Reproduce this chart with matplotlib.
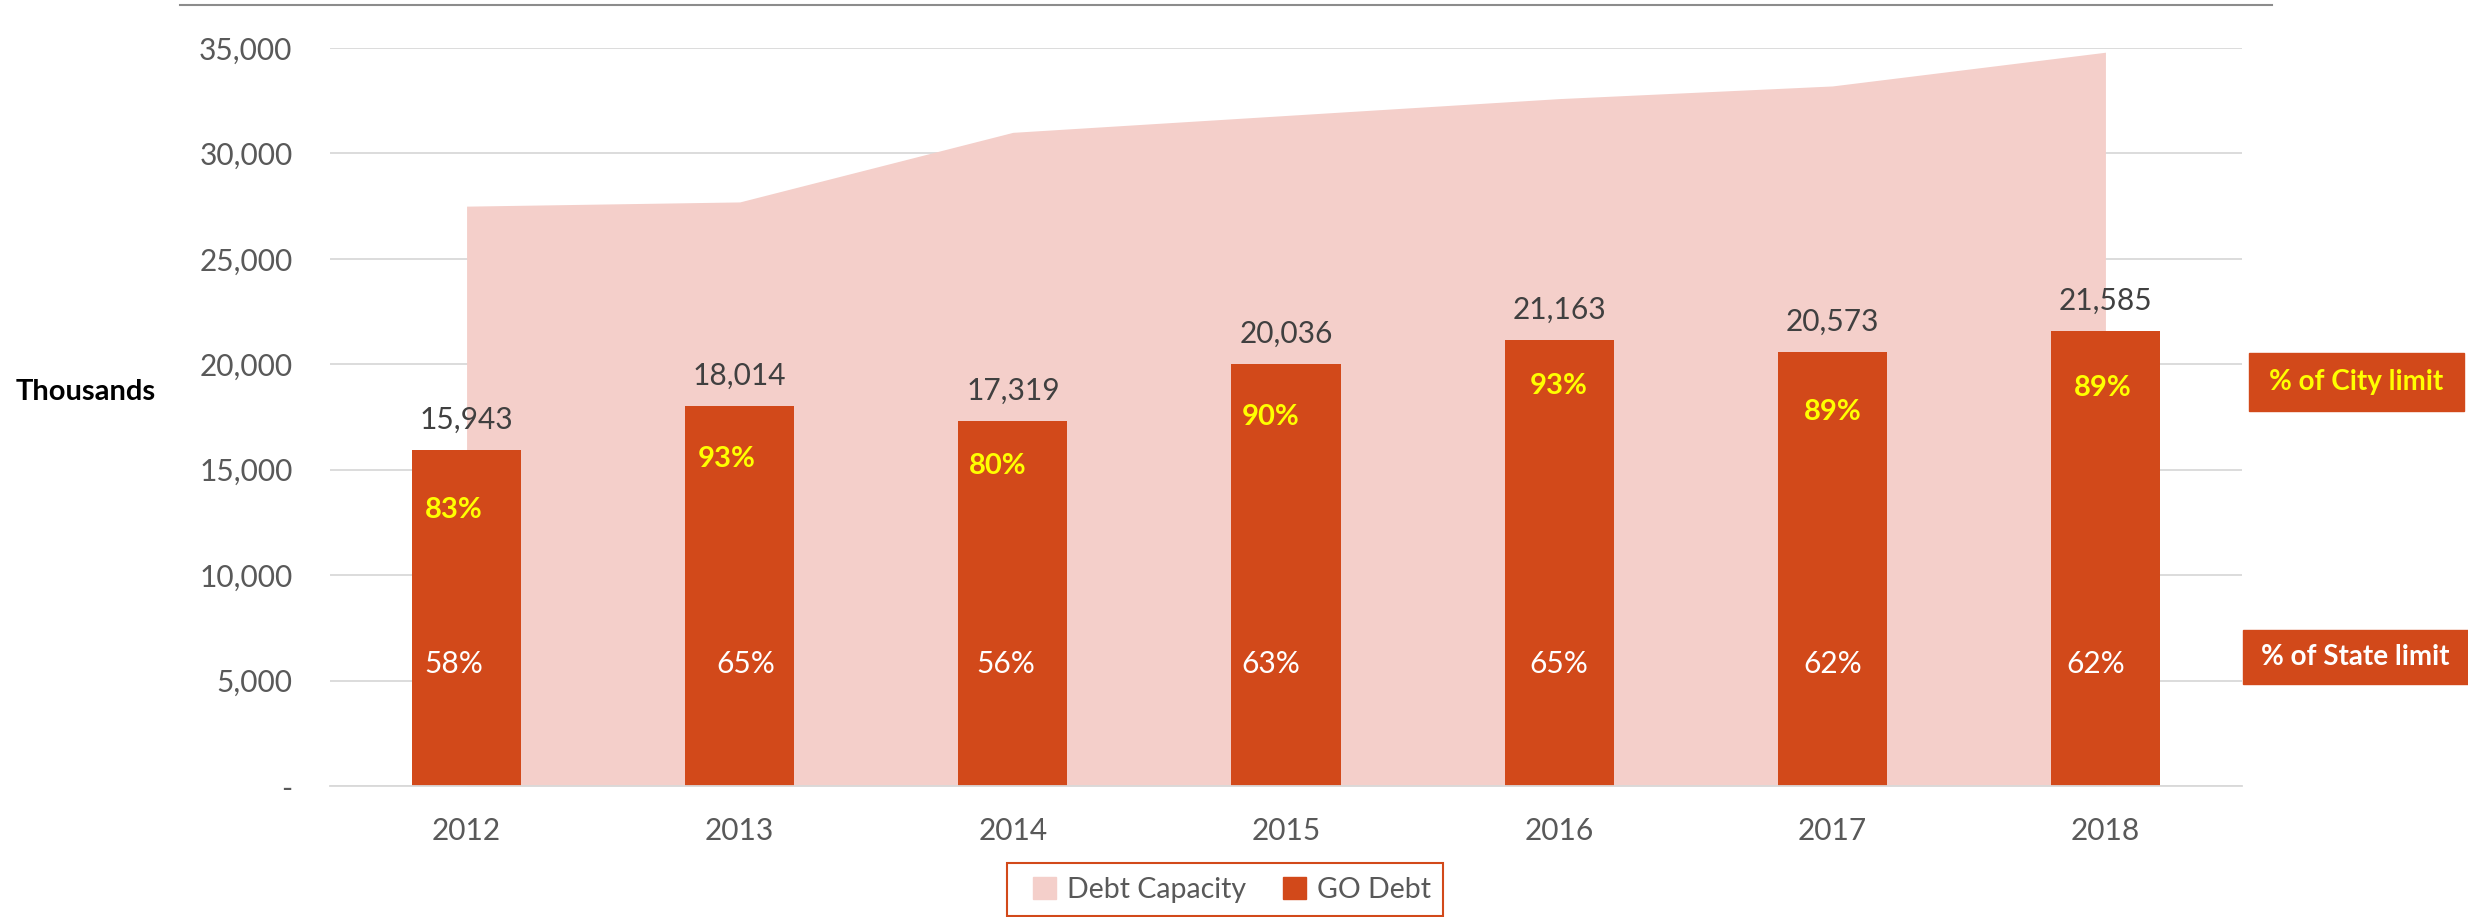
import matplotlib
matplotlib.use("Agg")
import matplotlib.pyplot as plt
from matplotlib.patches import Rectangle, Patch
from matplotlib.lines import Line2D
from matplotlib.ticker import FuncFormatter
import numpy as np

plt.rcParams["font.family"] = ["Lato", "DejaVu Sans"]

years = ["2012", "2013", "2014", "2015", "2016", "2017", "2018"]
go_debt = [15943, 18014, 17319, 20036, 21163, 20573, 21585]
debt_capacity = [27500, 27700, 31000, 31800, 32600, 33200, 34800]
city_pct = ["83%", "93%", "80%", "90%", "93%", "89%", "89%"]
state_pct = ["58%", "65%", "56%", "63%", "65%", "62%", "62%"]

# the in-bar labels were nudged by hand on the original slide (pixels)
city_dx = [-13, -13, -15, -15, 0, 0, -3]
city_dy = [60, 53, 45, 53, 46, 60, 57]
state_dx = [-13, 6, -7, -15, 0, 0, -10]
STATE_Y = 5800

ORANGE = "#D2491A"
PINK = "#F4CFCA"
W, H = 2468, 917
PT = 0.72  # points per pixel at dpi 100

fig = plt.figure(figsize=(W / 100, H / 100), dpi=100)
ax = fig.add_axes([330 / W, 1 - 786 / H, (2242 - 330) / W, (786 - 48) / H])

x = np.arange(len(years))
ax.fill_between(x, debt_capacity, color=PINK, lw=0, zorder=1)
ax.bar(x, go_debt, width=0.4, color=ORANGE, zorder=2)

ax.set_xlim(-0.5, len(years) - 0.5)
ax.set_ylim(0, 35000)
ax.set_yticks(range(0, 35001, 5000))
ax.yaxis.set_major_formatter(FuncFormatter(lambda v, p: "-" if v == 0 else f"{v:,.0f}"))
ax.set_xticks(x, years)
ax.grid(axis="y", color="#D9D9D9", lw=1.3)
ax.set_axisbelow(True)
for name, s in ax.spines.items():
    s.set_visible(name == "bottom")
ax.spines["bottom"].set_color("#D9D9D9")
ax.spines["bottom"].set_linewidth(1.3)
ax.tick_params(length=0, labelsize=21.5, labelcolor="#595959")
ax.tick_params(axis="y", pad=27)
ax.tick_params(axis="x", pad=22)

for i in range(len(years)):
    ax.annotate(f"{go_debt[i]:,}", (i, go_debt[i]), xytext=(0, 30 * PT),
                textcoords="offset points", ha="center", va="center",
                fontsize=21.5, color="#404040", zorder=3)
    ax.annotate(city_pct[i], (i, go_debt[i]), xytext=(city_dx[i] * PT, -city_dy[i] * PT),
                textcoords="offset points", ha="center", va="center",
                fontsize=21, fontweight="bold", color="#FFFF00", zorder=3)
    ax.annotate(state_pct[i], (i, STATE_Y), xytext=(state_dx[i] * PT, 0),
                textcoords="offset points", ha="center", va="center",
                fontsize=21.5, color="white", zorder=3)

fig.text(16 / W, 1 - 392 / H, "Thousands", ha="left", va="center",
         fontsize=21, fontweight="bold", color="black")

# side captions
fig.add_artist(Rectangle((2249 / W, 1 - 411 / H), (2464 - 2249) / W, 58 / H,
                         transform=fig.transFigure, color=ORANGE))
fig.text(2356 / W, 1 - 382 / H, "% of City limit", ha="center", va="center",
         fontsize=20, fontweight="bold", color="#FFFF00")
fig.add_artist(Rectangle((2243 / W, 1 - 684 / H), (2468 - 2243) / W, 54 / H,
                         transform=fig.transFigure, color=ORANGE))
fig.text(2355 / W, 1 - 657 / H, "% of State limit", ha="center", va="center",
         fontsize=20, fontweight="bold", color="white")

# thin frame line along the top
fig.add_artist(Line2D([180 / W, 2272 / W], [1 - 5 / H] * 2, color="#8C8C8C", lw=1.5))

# legend in an orange box
fig.add_artist(Rectangle((1007 / W, 1 - 916 / H), 436 / W, 53 / H, transform=fig.transFigure,
                         fill=False, edgecolor=ORANGE, lw=1.5))
fig.legend(handles=[Patch(color=PINK), Patch(color=ORANGE)],
           labels=["Debt Capacity", "GO Debt"], loc="center",
           bbox_to_anchor=(1232 / W, 1 - 890 / H), ncol=2, frameon=False,
           fontsize=20.5, handlelength=0.8, handleheight=0.8, columnspacing=1.3,
           handletextpad=0.4, labelcolor="#595959")

fig.savefig("out.png", dpi=100)
